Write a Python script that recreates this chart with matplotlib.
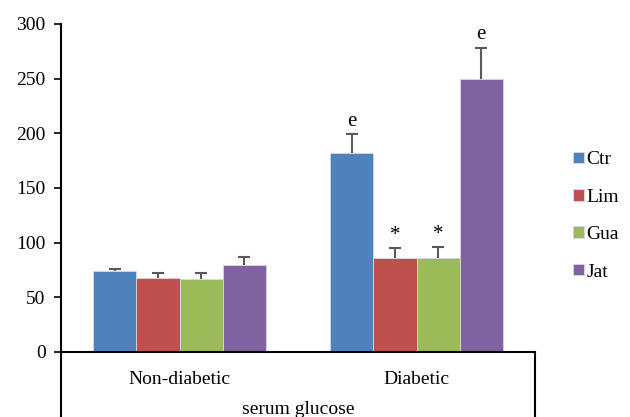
import numpy as np
import matplotlib.pyplot as plt

plt.rcParams['font.family'] = ['Liberation Serif', 'DejaVu Serif']

groups = ['Non-diabetic', 'Diabetic']
series = ['Ctr', 'Lim', 'Gua', 'Jat']
colors = ['#4F81BD', '#C0504D', '#9BBB59', '#8064A2']

means = {
    'Ctr': [74, 182],
    'Lim': [68, 86],
    'Gua': [66.5, 86],
    'Jat': [80, 250],
}
errors = {
    'Ctr': [2, 17],
    'Lim': [4.5, 9],
    'Gua': [5.5, 10],
    'Jat': [7, 28.5],
}
marks = {
    'Ctr': ['', 'e'],
    'Lim': ['', '*'],
    'Gua': ['', '*'],
    'Jat': ['', 'e'],
}

fig = plt.figure(figsize=(6.3, 4.17), dpi=100)
ax = fig.add_axes([61 / 630, 65 / 417, 474 / 630, 328 / 417])

x = np.arange(len(groups))
width = 1 / 5.5  # gap width 150%
for i, (name, col) in enumerate(zip(series, colors)):
    pos = x + (i - 1.5) * width
    m = np.array(means[name])
    top = m + np.array(errors[name])
    ax.bar(pos, m, width, color=col, edgecolor='#d9d9e6', linewidth=0.6,
           label=name, zorder=2)
    # upper-only error bars
    ax.vlines(pos, m, top, color='#595959', lw=1.5, zorder=3)
    ax.plot(pos, top, ls='none', marker='_', ms=9, mew=1.5, color='#595959', zorder=3)
    for p, t_y, t in zip(pos, top, marks[name]):
        if t:
            ax.text(p, t_y + 3, t, ha='center', va='bottom', fontsize=15)

ax.set_xlim(-0.5, 1.5)
ax.set_ylim(0, 300)
ax.set_yticks(np.arange(0, 301, 50))
ax.tick_params(axis='y', direction='out', length=5, width=1.2, labelsize=14, pad=6)
ax.set_xticks(x)
ax.set_xticklabels(groups, fontsize=14)
ax.tick_params(axis='x', length=0, pad=14)

for s in ['top', 'right']:
    ax.spines[s].set_visible(False)
ax.spines['left'].set_linewidth(1.5)
ax.spines['bottom'].set_linewidth(1.5)

# multi-level category frame below the axis
drop = -65 / 328
ax.plot([0, 0], [0, drop], transform=ax.transAxes, color='black', lw=1.5, clip_on=False)
ax.plot([1, 1], [0, drop], transform=ax.transAxes, color='black', lw=1.5, clip_on=False)
ax.text(0.5, -58 / 328, 'serum glucose', transform=ax.transAxes, ha='center',
        va='center', fontsize=14)

ax.legend(loc='center left', bbox_to_anchor=(1.043, 0.415), frameon=False, fontsize=14,
          handlelength=0.55, handleheight=0.55, handletextpad=0.15, labelspacing=1.05)

fig.savefig('out.png', dpi=100)
